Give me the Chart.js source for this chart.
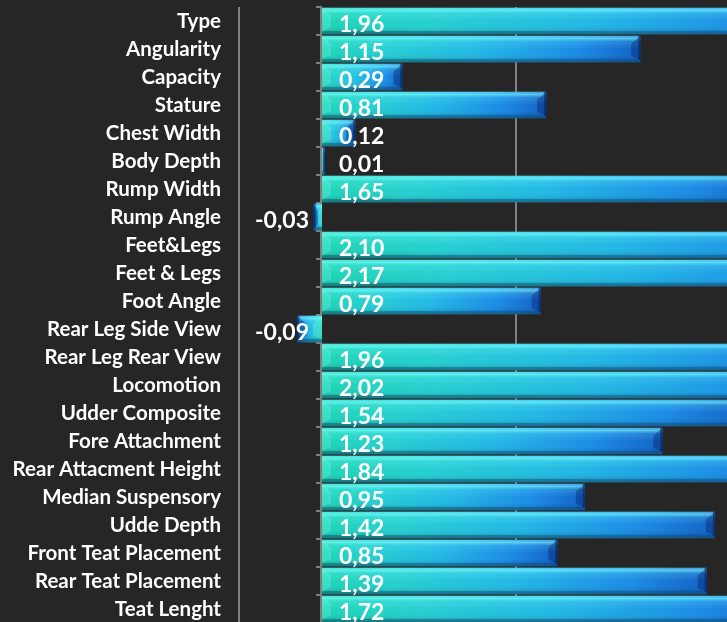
<!DOCTYPE html>
<html>
<head>
<meta charset="utf-8">
<script src="https://cdn.jsdelivr.net/npm/chart.js@4.4.1/dist/chart.umd.min.js"></script>
<style>
  html, body { margin: 0; padding: 0; background: #262626; overflow: hidden; }
  #wrap { width: 727px; height: 622px; overflow: hidden; }
</style>
</head>
<body>
<div id="wrap"><canvas id="myChart" width="727" height="630"></canvas></div>
<script>
const traits = ["Type", "Angularity", "Capacity", "Stature", "Chest Width", "Body Depth",
  "Rump Width", "Rump Angle", "Feet&Legs", "Feet & Legs", "Foot Angle",
  "Rear Leg Side View", "Rear Leg Rear View", "Locomotion", "Udder Composite",
  "Fore Attachment", "Rear Attacment Height", "Median Suspensory", "Udde Depth",
  "Front Teat Placement", "Rear Teat Placement", "Teat Lenght"];
const scores = [1.96, 1.15, 0.29, 0.81, 0.12, 0.01, 1.65, -0.03, 2.10, 2.17, 0.79,
  -0.09, 1.96, 2.02, 1.54, 1.23, 1.84, 0.95, 1.42, 0.85, 1.39, 1.72];
const gridValues = [-0.3, 0.7];

function fmt(v) {
  return v.toFixed(2).replace('.', ',');
}

// gradient along each bar, from its base to its end
function barFill(context) {
  const chart = context.chart;
  const x = chart.scales.x;
  if (!chart.chartArea || !x) return '#1fb8e0';
  const v = scores[context.dataIndex];
  const x0 = x.getPixelForValue(0);
  const x1 = x.getPixelForValue(v);
  if (Math.abs(x1 - x0) < 1) return '#1a8ee8';
  const g = chart.ctx.createLinearGradient(x0, 0, x1, 0);
  g.addColorStop(0, '#1ed6b6');
  g.addColorStop(0.2, '#26d0d2');
  g.addColorStop(0.5, '#22b8e6');
  g.addColorStop(0.8, '#1a8ce6');
  g.addColorStop(1, '#1262c6');
  return g;
}

const zeroAxis = {
  id: 'zeroAxis',
  beforeDatasetsDraw(chart) {
    const ctx = chart.ctx;
    const x = chart.scales.x;
    const y = chart.scales.y;
    const x0 = x.getPixelForValue(0);
    ctx.save();
    ctx.strokeStyle = '#7f7f7f';
    ctx.lineWidth = 2;
    ctx.beginPath();
    ctx.moveTo(x0 - 1, chart.chartArea.top);
    ctx.lineTo(x0 - 1, chart.chartArea.bottom);
    const step = (y.bottom - y.top) / traits.length;
    for (let i = 0; i <= traits.length; i++) {
      const yy = y.top + i * step;
      ctx.moveTo(x0 - 6, yy);
      ctx.lineTo(x0, yy);
    }
    ctx.stroke();
    ctx.restore();
  }
};

const barShine = {
  id: 'barShine',
  afterDatasetsDraw(chart) {
    const ctx = chart.ctx;
    const area = chart.chartArea;
    const meta = chart.getDatasetMeta(0);
    ctx.save();
    ctx.beginPath();
    ctx.rect(area.left, area.top, area.right - area.left, area.bottom - area.top);
    ctx.clip();
    meta.data.forEach((bar, i) => {
      const left = Math.min(bar.x, bar.base);
      const right = Math.max(bar.x, bar.base);
      const w = right - left;
      if (w < 1) return;
      const top = bar.y - bar.height / 2;
      const h = bar.height;
      const g = ctx.createLinearGradient(0, top, 0, top + h);
      g.addColorStop(0, 'rgba(120,255,255,0.35)');
      g.addColorStop(0.1, 'rgba(140,255,255,0.6)');
      g.addColorStop(0.22, 'rgba(120,255,255,0.18)');
      g.addColorStop(0.5, 'rgba(255,255,255,0)');
      g.addColorStop(0.85, 'rgba(0,30,60,0.08)');
      g.addColorStop(0.9, 'rgba(20,70,100,0.55)');
      g.addColorStop(1, 'rgba(20,70,100,0.65)');
      ctx.fillStyle = g;
      ctx.fillRect(left, top, w, h);
      // bevel at the far end of the bar
      const end = scores[i] >= 0 ? right : left;
      const dir = scores[i] >= 0 ? -1 : 1;
      const bw = Math.min(9, w / 2);
      ctx.fillStyle = 'rgba(0,25,90,0.35)';
      ctx.beginPath();
      ctx.moveTo(end, top);
      ctx.lineTo(end + dir * bw, top + h * 0.3);
      ctx.lineTo(end + dir * bw, top + h * 0.75);
      ctx.lineTo(end, top + h * 0.9);
      ctx.closePath();
      ctx.fill();
      ctx.fillStyle = 'rgba(0,30,100,0.55)';
      ctx.fillRect(scores[i] >= 0 ? end - 2 : end, top, 2, h * 0.9);
      // light bevel at the base
      const base = scores[i] >= 0 ? left : right;
      ctx.fillStyle = 'rgba(150,255,240,0.22)';
      ctx.beginPath();
      ctx.moveTo(base, top);
      ctx.lineTo(base - dir * bw, top + h * 0.3);
      ctx.lineTo(base - dir * bw, top + h * 0.75);
      ctx.lineTo(base, top + h * 0.9);
      ctx.closePath();
      ctx.fill();
    });
    ctx.restore();
  }
};

const valueLabels = {
  id: 'valueLabels',
  afterDraw(chart) {
    const ctx = chart.ctx;
    const x0 = chart.scales.x.getPixelForValue(0);
    const meta = chart.getDatasetMeta(0);
    ctx.save();
    ctx.font = 'bold 23px Lato';
    ctx.fillStyle = '#ffffff';
    ctx.textBaseline = 'middle';
    meta.data.forEach((bar, i) => {
      const v = scores[i];
      if (v >= 0) {
        ctx.textAlign = 'left';
        ctx.fillText(fmt(v), x0 + 17, bar.y + 4);
      } else {
        ctx.textAlign = 'right';
        ctx.fillText(fmt(v), x0 - 13, bar.y + 4);
      }
    });
    ctx.restore();
  }
};

const ctx = document.getElementById('myChart').getContext('2d');
const myChart = new Chart(ctx, {
  type: 'bar',
  data: {
    labels: traits,
    datasets: [{
      data: scores,
      backgroundColor: barFill,
      borderWidth: 0,
      barPercentage: 0.95,
      categoryPercentage: 1
    }]
  },
  options: {
    indexAxis: 'y',
    responsive: false,
    animation: false,
    layout: { padding: { top: 7, bottom: 7, left: 0, right: 0 } },
    plugins: {
      legend: { display: false },
      tooltip: { enabled: false }
    },
    scales: {
      x: {
        min: -0.3,
        max: 1.4636,
        afterBuildTicks(scale) {
          scale.ticks = gridValues.map(v => ({ value: v }));
        },
        afterFit(scale) { scale.height = 0; },
        ticks: { display: false },
        border: { display: false },
        grid: { color: '#808080', lineWidth: 2, drawTicks: false }
      },
      y: {
        afterFit(scale) {
          scale.width = 239;
          scale.paddingTop = 0;
          scale.paddingBottom = 0;
        },
        ticks: {
          color: '#ffffff',
          padding: 18,
          autoSkip: false,
          font: { family: 'Lato', weight: 'bold', size: 20.5 }
        },
        border: { display: false },
        grid: { display: false, drawTicks: false }
      }
    }
  },
  plugins: [zeroAxis, barShine, valueLabels]
});
</script>
</body>
</html>
